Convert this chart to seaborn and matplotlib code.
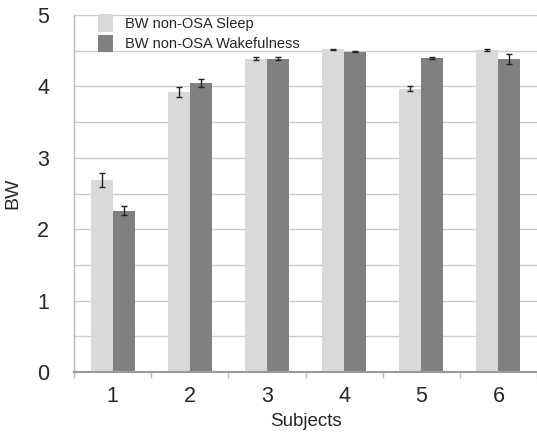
import numpy as np
import pandas as pd
import matplotlib
matplotlib.use("Agg")
import matplotlib.pyplot as plt
import seaborn as sns
from matplotlib.ticker import MultipleLocator, FixedLocator

subjects = ["1", "2", "3", "4", "5", "6"]
sleep = [2.69, 3.92, 4.39, 4.52, 3.97, 4.51]
sleep_err = [0.10, 0.07, 0.02, 0.01, 0.04, 0.01]
wake = [2.26, 4.05, 4.39, 4.49, 4.40, 4.39]
wake_err = [0.06, 0.06, 0.02, 0.01, 0.02, 0.07]
series = ["BW non-OSA Sleep", "BW non-OSA Wakefulness"]
colors = ["#d9d9d9", "#808080"]

df = pd.DataFrame({
    "Subjects": subjects * 2,
    "BW": sleep + wake,
    "err": sleep_err + wake_err,
    "series": [series[0]] * 6 + [series[1]] * 6,
})

sns.set_style("white")
plt.rcParams["font.family"] = ["Liberation Sans", "DejaVu Sans"]

fig = plt.figure(figsize=(5.37, 4.32), dpi=100)
ax = fig.add_axes([0.138, 0.139, 0.862, 0.826])

sns.barplot(data=df, x="Subjects", y="BW", hue="series", palette=colors,
            width=0.57, errorbar=None, ax=ax, saturation=1, linewidth=0, zorder=2)

# error bars positioned from the drawn patches
patches = [p for p in ax.patches if p.get_height() > 0]
patches_sorted = sorted(patches, key=lambda p: p.get_x())
vals = []
for i in range(6):
    vals.append((sleep[i], sleep_err[i]))
    vals.append((wake[i], wake_err[i]))
for p, (v, e) in zip(patches_sorted, vals):
    cx = p.get_x() + p.get_width() / 2
    ax.errorbar(cx, p.get_height(), yerr=e, color="#222222", capsize=2.5,
                elinewidth=1, capthick=1, zorder=3)

ax.set_ylim(0, 5)
ax.set_xlim(-0.5, 5.5)
ax.yaxis.set_major_locator(MultipleLocator(1))
ax.yaxis.set_minor_locator(MultipleLocator(0.5))
ax.grid(True, axis="y", which="both", color="#cccccc", linewidth=1, zorder=0)
ax.set_axisbelow(True)

ax.xaxis.set_minor_locator(FixedLocator(np.arange(-0.5, 6.0, 1.0)))
ax.tick_params(axis="x", which="major", length=0, pad=10, labelsize=15.5)
ax.tick_params(axis="x", which="minor", length=4, color="#bbbbbb", width=1, direction="out", bottom=True)
ax.tick_params(axis="y", which="both", length=0, pad=18, labelsize=15.5)

for s in ["top", "right"]:
    ax.spines[s].set_visible(False)
ax.spines["left"].set_color("#b8b8b8")
ax.spines["left"].set_linewidth(1)
ax.spines["bottom"].set_color("#999999")
ax.spines["bottom"].set_linewidth(1.5)

ax.set_xlabel("Subjects", fontsize=13.5, labelpad=4.5)
ax.set_ylabel("BW", fontsize=14, labelpad=11)

handles, labels = ax.get_legend_handles_labels()
ax.legend(handles, labels, loc="upper left", bbox_to_anchor=(0.04, 1.02), frameon=False,
          fontsize=10.5, handlelength=1.0, handleheight=1.5, handletextpad=0.8,
          labelspacing=0.2, borderaxespad=0)

fig.savefig("out.png", dpi=100)
